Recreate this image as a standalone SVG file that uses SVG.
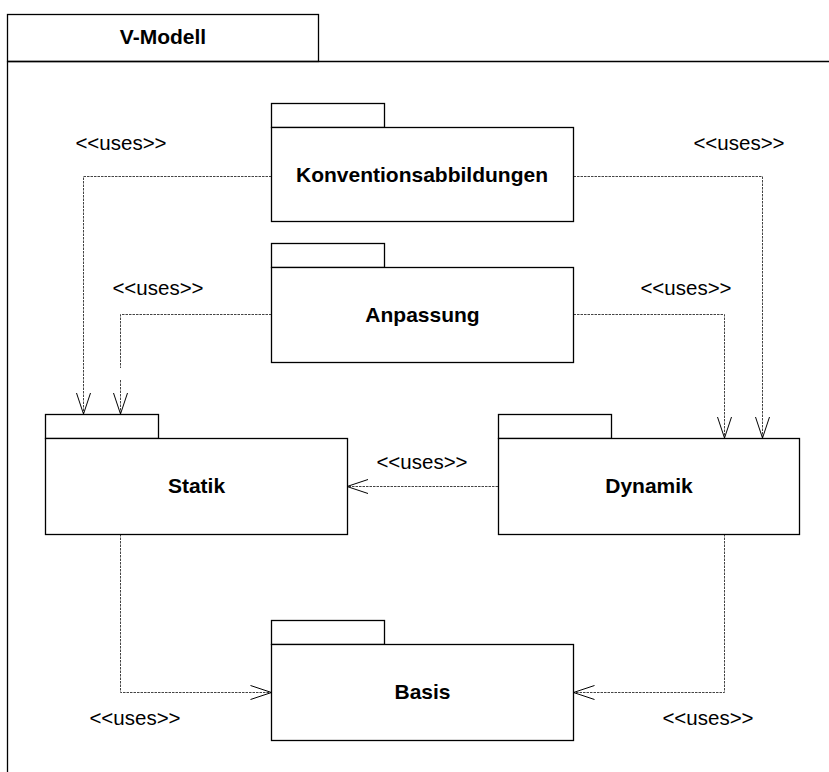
<svg xmlns="http://www.w3.org/2000/svg" width="829" height="772" viewBox="0 0 829 772">
<style>
.box{fill:#fff;stroke:#000;stroke-width:1.3}
.frame{fill:none;stroke:#000;stroke-width:1.3}
.name{font-family:"Liberation Sans",Arial,sans-serif;font-weight:bold;font-size:21px;text-anchor:middle;fill:#000}
.lbl{font-family:"Liberation Sans",Arial,sans-serif;font-size:20.5px;text-anchor:middle;fill:#000}
.dep{fill:none;stroke:#444;stroke-width:1;stroke-dasharray:2.5,1}
.head{fill:none;stroke:#000;stroke-width:1}
</style>
<g id="frame">
<rect class="frame" x="7.5" y="14.5" width="311" height="47"/>
<path class="frame" d="M7.5 61.5 H829 M7.5 61.5 V772"/>
<text class="name" x="163" y="44">V-Modell</text>
</g>
<g id="connectors">
<path class="dep" d="M271.5 176.5 H83.5 V414"/>
<path class="head" d="M76.5 393 L83.5 414 L90.5 393"/>
<path class="dep" d="M271.5 314.5 H120.5 V368 M120.5 380 V414"/>
<path class="head" d="M113.5 393 L120.5 414 L127.5 393"/>
<path class="dep" d="M573.5 176.5 H762.5 V438"/>
<path class="head" d="M755.5 417 L762.5 438 L769.5 417"/>
<path class="dep" d="M573.5 314.5 H724.5 V438"/>
<path class="head" d="M717.5 417 L724.5 438 L731.5 417"/>
<path class="dep" d="M498 486.5 H347"/>
<path class="head" d="M368 479.5 L347 486.5 L368 493.5"/>
<path class="dep" d="M120.5 534 V692.5 H271.5"/>
<path class="head" d="M250.5 685.5 L271.5 692.5 L250.5 699.5"/>
<path class="dep" d="M724.5 534 V692.5 H573.5"/>
<path class="head" d="M594.5 685.5 L573.5 692.5 L594.5 699.5"/>
<text class="lbl" x="121" y="150">&lt;&lt;uses&gt;&gt;</text>
<text class="lbl" x="739" y="150">&lt;&lt;uses&gt;&gt;</text>
<text class="lbl" x="158" y="295">&lt;&lt;uses&gt;&gt;</text>
<text class="lbl" x="686" y="295">&lt;&lt;uses&gt;&gt;</text>
<text class="lbl" x="422" y="469">&lt;&lt;uses&gt;&gt;</text>
<text class="lbl" x="135" y="725">&lt;&lt;uses&gt;&gt;</text>
<text class="lbl" x="708" y="725">&lt;&lt;uses&gt;&gt;</text>
</g>
<g id="Konventionsabbildungen">
<rect class="box" x="271.5" y="103.5" width="113" height="24"/>
<rect class="box" x="271.5" y="127.5" width="302" height="94"/>
<text class="name" x="422" y="182">Konventionsabbildungen</text>
</g>
<g id="Anpassung">
<rect class="box" x="271.5" y="243.5" width="113" height="24"/>
<rect class="box" x="271.5" y="267.5" width="302" height="95"/>
<text class="name" x="422.5" y="322">Anpassung</text>
</g>
<g id="Statik">
<rect class="box" x="45.5" y="414.5" width="113" height="24"/>
<rect class="box" x="45.5" y="438.5" width="302" height="96"/>
<text class="name" x="196.5" y="493">Statik</text>
</g>
<g id="Dynamik">
<rect class="box" x="498.5" y="414.5" width="113" height="24"/>
<rect class="box" x="498.5" y="438.5" width="301" height="96"/>
<text class="name" x="649" y="493">Dynamik</text>
</g>
<g id="Basis">
<rect class="box" x="271.5" y="620.5" width="113" height="24"/>
<rect class="box" x="271.5" y="644.5" width="302" height="96"/>
<text class="name" x="422.5" y="699">Basis</text>
</g>
</svg>
